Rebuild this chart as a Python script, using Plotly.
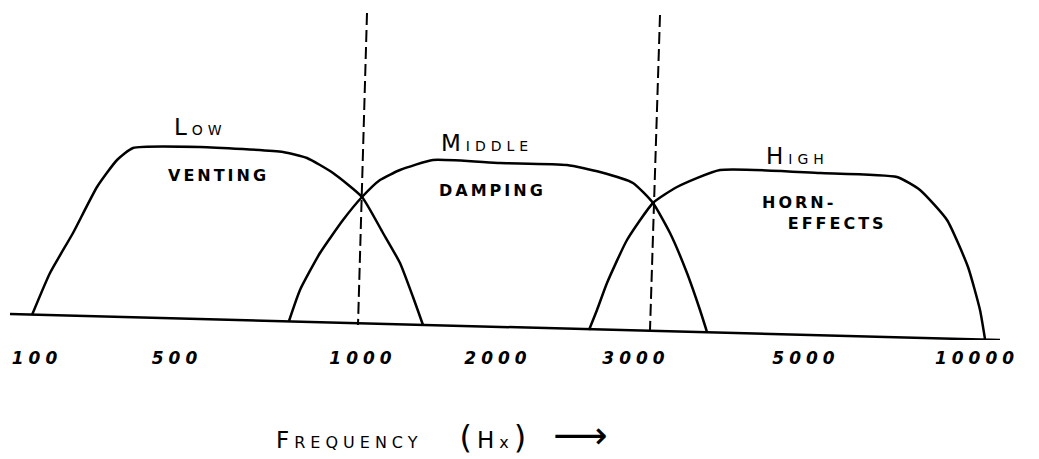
import plotly.graph_objects as go

# Hand-drawn crossover sketch. x = position along the drawing, y = response height.
tick_pos = [37, 177, 363, 498, 636, 806, 977]
tick_labels = ["100", "500", "1000", "2000", "3000", "5000", "10000"]

low_x = [32, 50, 73, 97, 117, 133, 200, 283, 307, 333, 362, 383, 400, 413, 423]
low_y = [25, 67, 107, 153, 180, 192, 193, 188, 182, 167, 143, 107, 77, 43, 15]

mid_x = [289, 300, 320, 343, 362, 380, 400, 433, 500, 567, 600, 633, 653, 670, 687, 700, 707]
mid_y = [19, 50, 87, 120, 143, 160, 170, 180, 177, 175, 168, 157, 137, 107, 67, 30, 8]

high_x = [589, 597, 607, 627, 653, 677, 720, 820, 897, 920, 947, 968, 980, 985]
high_y = [10, 30, 57, 100, 137, 153, 170, 167, 163, 150, 120, 73, 30, 1]

base_x = [10, 1000]
base_y = [26, 0]

cross1_x = [367, 358]
cross1_y = [327, 15]
cross2_x = [660, 650]
cross2_y = [325, 10]

band_names = ["Low", "Middle", "High"]
band_notes = ["VENTING", "DAMPING", "HORN-<br>   EFFECTS"]


def small_caps(word, small=14):
    return f"{word[0]}<span style='font-size:{small}px'>{word[1:].upper()}</span>"


def spaced(text, gap=3):
    return f"<span style='letter-spacing:{gap}px'>{text}</span>"


FONT = "DejaVu Sans"
ink = "black"

fig = go.Figure()
for xs, ys in [(base_x, base_y), (low_x, low_y), (mid_x, mid_y), (high_x, high_y)]:
    fig.add_scatter(x=xs, y=ys, mode="lines", line=dict(color=ink, width=2.5, shape="spline", smoothing=0.5),
                    hoverinfo="skip", showlegend=False)
for xs, ys in [(cross1_x, cross1_y), (cross2_x, cross2_y)]:
    fig.add_scatter(x=xs, y=ys, mode="lines", line=dict(color=ink, width=2, dash="12px,5px"),
                    hoverinfo="skip", showlegend=False)

name_pos = [(200, 213), (487, 197), (797, 184)]
note_pos = [(218, 165), (492, 150), (824, 127)]
for name, (x, y) in zip(band_names, name_pos):
    fig.add_annotation(x=x, y=y, text=spaced(small_caps(name), 5), showarrow=False,
                       font=dict(family=FONT, size=23, color=ink))
for note, (x, y) in zip(band_notes, note_pos):
    fig.add_annotation(x=x, y=y, text=spaced(f"<b>{note}</b>", 3), showarrow=False, align="left",
                       font=dict(family=FONT, size=16, color=ink))

fig.add_annotation(
    x=442, xref="x", y=0, yref="paper", yshift=-119, showarrow=False,
    text=spaced("F<span style='font-size:16px'>REQUENCY</span>   <span style='font-size:32px'>(</span>H<span style='font-size:16px'>x</span><span style='font-size:32px'>)</span>", 5)
         + "   <span style='font-size:38px'>⟶</span>",
    font=dict(family=FONT, size=23, color=ink),
)

fig.update_layout(
    width=1039, height=459,
    margin=dict(l=0, r=0, t=0, b=119, autoexpand=False),
    plot_bgcolor="white", paper_bgcolor="white",
    xaxis=dict(range=[0, 1039], showgrid=False, zeroline=False, showline=False, automargin=False,
               tickvals=tick_pos, ticktext=[spaced(f"<b><i>{t}</i></b>", 5) for t in tick_labels],
               tickfont=dict(family=FONT, size=17, color=ink), ticks="", ticklabelstandoff=6),
    yaxis=dict(range=[0, 340], visible=False, automargin=False),
)

# page body has a default 8px margin; drop it so the figure sits at the window origin
fig.write_html("out.html", config={"displayModeBar": False},
               post_script="document.body.style.margin='0px';")
